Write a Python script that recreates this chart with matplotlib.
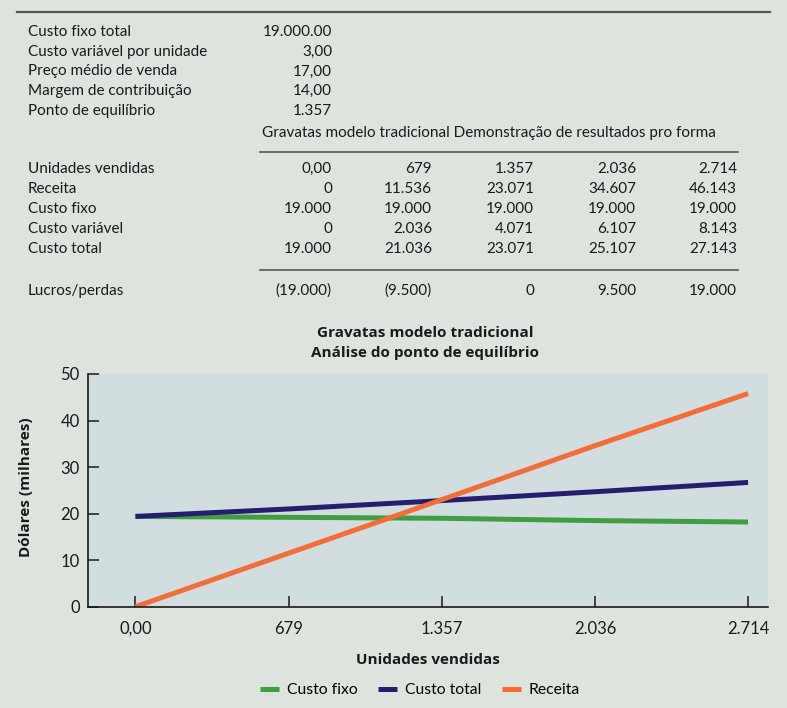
import matplotlib.pyplot as plt
import numpy as np

plt.rcParams['font.family'] = ['Lato', 'DejaVu Sans']

# summary block
summary_labels = ["Custo fixo total", "Custo variável por unidade",
                  "Preço médio de venda", "Margem de contribuição",
                  "Ponto de equilíbrio"]
summary_values = ["19.000.00", "3,00", "17,00", "14,00", "1.357"]

# pro forma table
table_title = "Gravatas modelo tradicional Demonstração de resultados pro forma"
row_labels = ["Unidades vendidas", "Receita", "Custo fixo",
              "Custo variável", "Custo total"]
row_values = [
    ["0,00", "679", "1.357", "2.036", "2.714"],
    ["0", "11.536", "23.071", "34.607", "46.143"],
    ["19.000", "19.000", "19.000", "19.000", "19.000"],
    ["0", "2.036", "4.071", "6.107", "8.143"],
    ["19.000", "21.036", "23.071", "25.107", "27.143"],
]
profit_label = "Lucros/perdas"
profit_values = ["(19.000)", "(9.500)", "0", "9.500", "19.000"]

# chart series (thousands of dollars, as drawn)
units_labels = ["0,00", "679", "1.357", "2.036", "2.714"]
custo_fixo = [19.4, 19.2, 19.0, 18.5, 18.2]
custo_total = [19.4, 21.0, 22.8, 24.7, 26.7]
receita = [0.0, 11.5, 23.0, 34.6, 45.8]

W, H = 787, 708
INK = '#1a1a1a'
BOLD = ['Open Sans', 'DejaVu Sans']
fig = plt.figure(figsize=(W / 100, H / 100), dpi=100, facecolor='#dde4de')


def fx(px):
    return px / W


def fy(py):
    return 1 - py / H


def txt(x, y, s, ha='left', **kw):
    fig.text(fx(x), fy(y), s, ha=ha, va='center', fontsize=11,
             color=INK, **kw)


def hline(x0, x1, y, lw=1.2):
    fig.add_artist(plt.Line2D([fx(x0), fx(x1)], [fy(y), fy(y)],
                              color='#555555', lw=lw, transform=fig.transFigure))


hline(17, 770, 12, lw=1.6)
for i, (lab, val) in enumerate(zip(summary_labels, summary_values)):
    y = 32 + i * 19.7
    txt(28, y, lab)
    txt(332, y, val, ha='right')

txt(262, 133, table_title)
hline(260, 738, 152)
col_x = [332, 432, 534, 636, 737]
for i, (lab, vals) in enumerate(zip(row_labels, row_values)):
    y = 169 + i * 20
    txt(28, y, lab)
    for cx, v in zip(col_x, vals):
        txt(cx, y, v, ha='right')
hline(260, 738, 270)
txt(28, 291, profit_label)
for cx, v in zip(col_x, profit_values):
    txt(cx, 291, v, ha='right')

# chart
ax = fig.add_axes([fx(88), fy(606.7), fx(768) - fx(88), fy(374) - fy(606.7)])
ax.set_facecolor('#d2dde0')
x = np.arange(len(units_labels))
ax.plot(x, custo_fixo, color='#3f9e3f', lw=3.6, label='Custo fixo',
        solid_capstyle='butt')
ax.plot(x, custo_total, color='#251d70', lw=3.6, label='Custo total',
        solid_capstyle='butt')
ax.plot(x, receita, color='#f26d38', lw=3.6, label='Receita',
        solid_capstyle='butt')

ax.set_xlim(-0.31, 4.13)
ax.set_ylim(0, 50)
ax.set_xticks(x)
ax.set_xticklabels(units_labels)
ax.set_yticks(range(0, 51, 10))
for s in ['top', 'right']:
    ax.spines[s].set_visible(False)
for s in ['left', 'bottom']:
    ax.spines[s].set_color(INK)
    ax.spines[s].set_linewidth(1.2)
ax.tick_params(axis='x', direction='in', length=8, width=1.1, pad=10,
               labelsize=12, colors=INK)
ax.tick_params(axis='y', direction='in', length=8, width=1.1, pad=6,
               labelsize=12, colors=INK)

fig.text(fx(425), fy(333), "Gravatas modelo tradicional", ha='center',
         va='center', fontsize=11, fontweight='bold', color=INK, family=BOLD)
fig.text(fx(425), fy(353), "Análise do ponto de equilíbrio", ha='center',
         va='center', fontsize=11, fontweight='bold', color=INK, family=BOLD)
fig.text(fx(26), fy(487), "Dólares (milhares)", ha='center', va='center',
         rotation=90, fontsize=11, fontweight='bold', color=INK, family=BOLD)
fig.text(fx(428), fy(660), "Unidades vendidas", ha='center', va='center',
         fontsize=11, fontweight='bold', color=INK, family=BOLD)

fig.legend(loc='center', bbox_to_anchor=(fx(420), fy(690)), ncol=3,
           frameon=False, fontsize=11.3, handlelength=1.2, columnspacing=1.3,
           handletextpad=0.5)

fig.savefig('out.png', dpi=100, facecolor=fig.get_facecolor())
